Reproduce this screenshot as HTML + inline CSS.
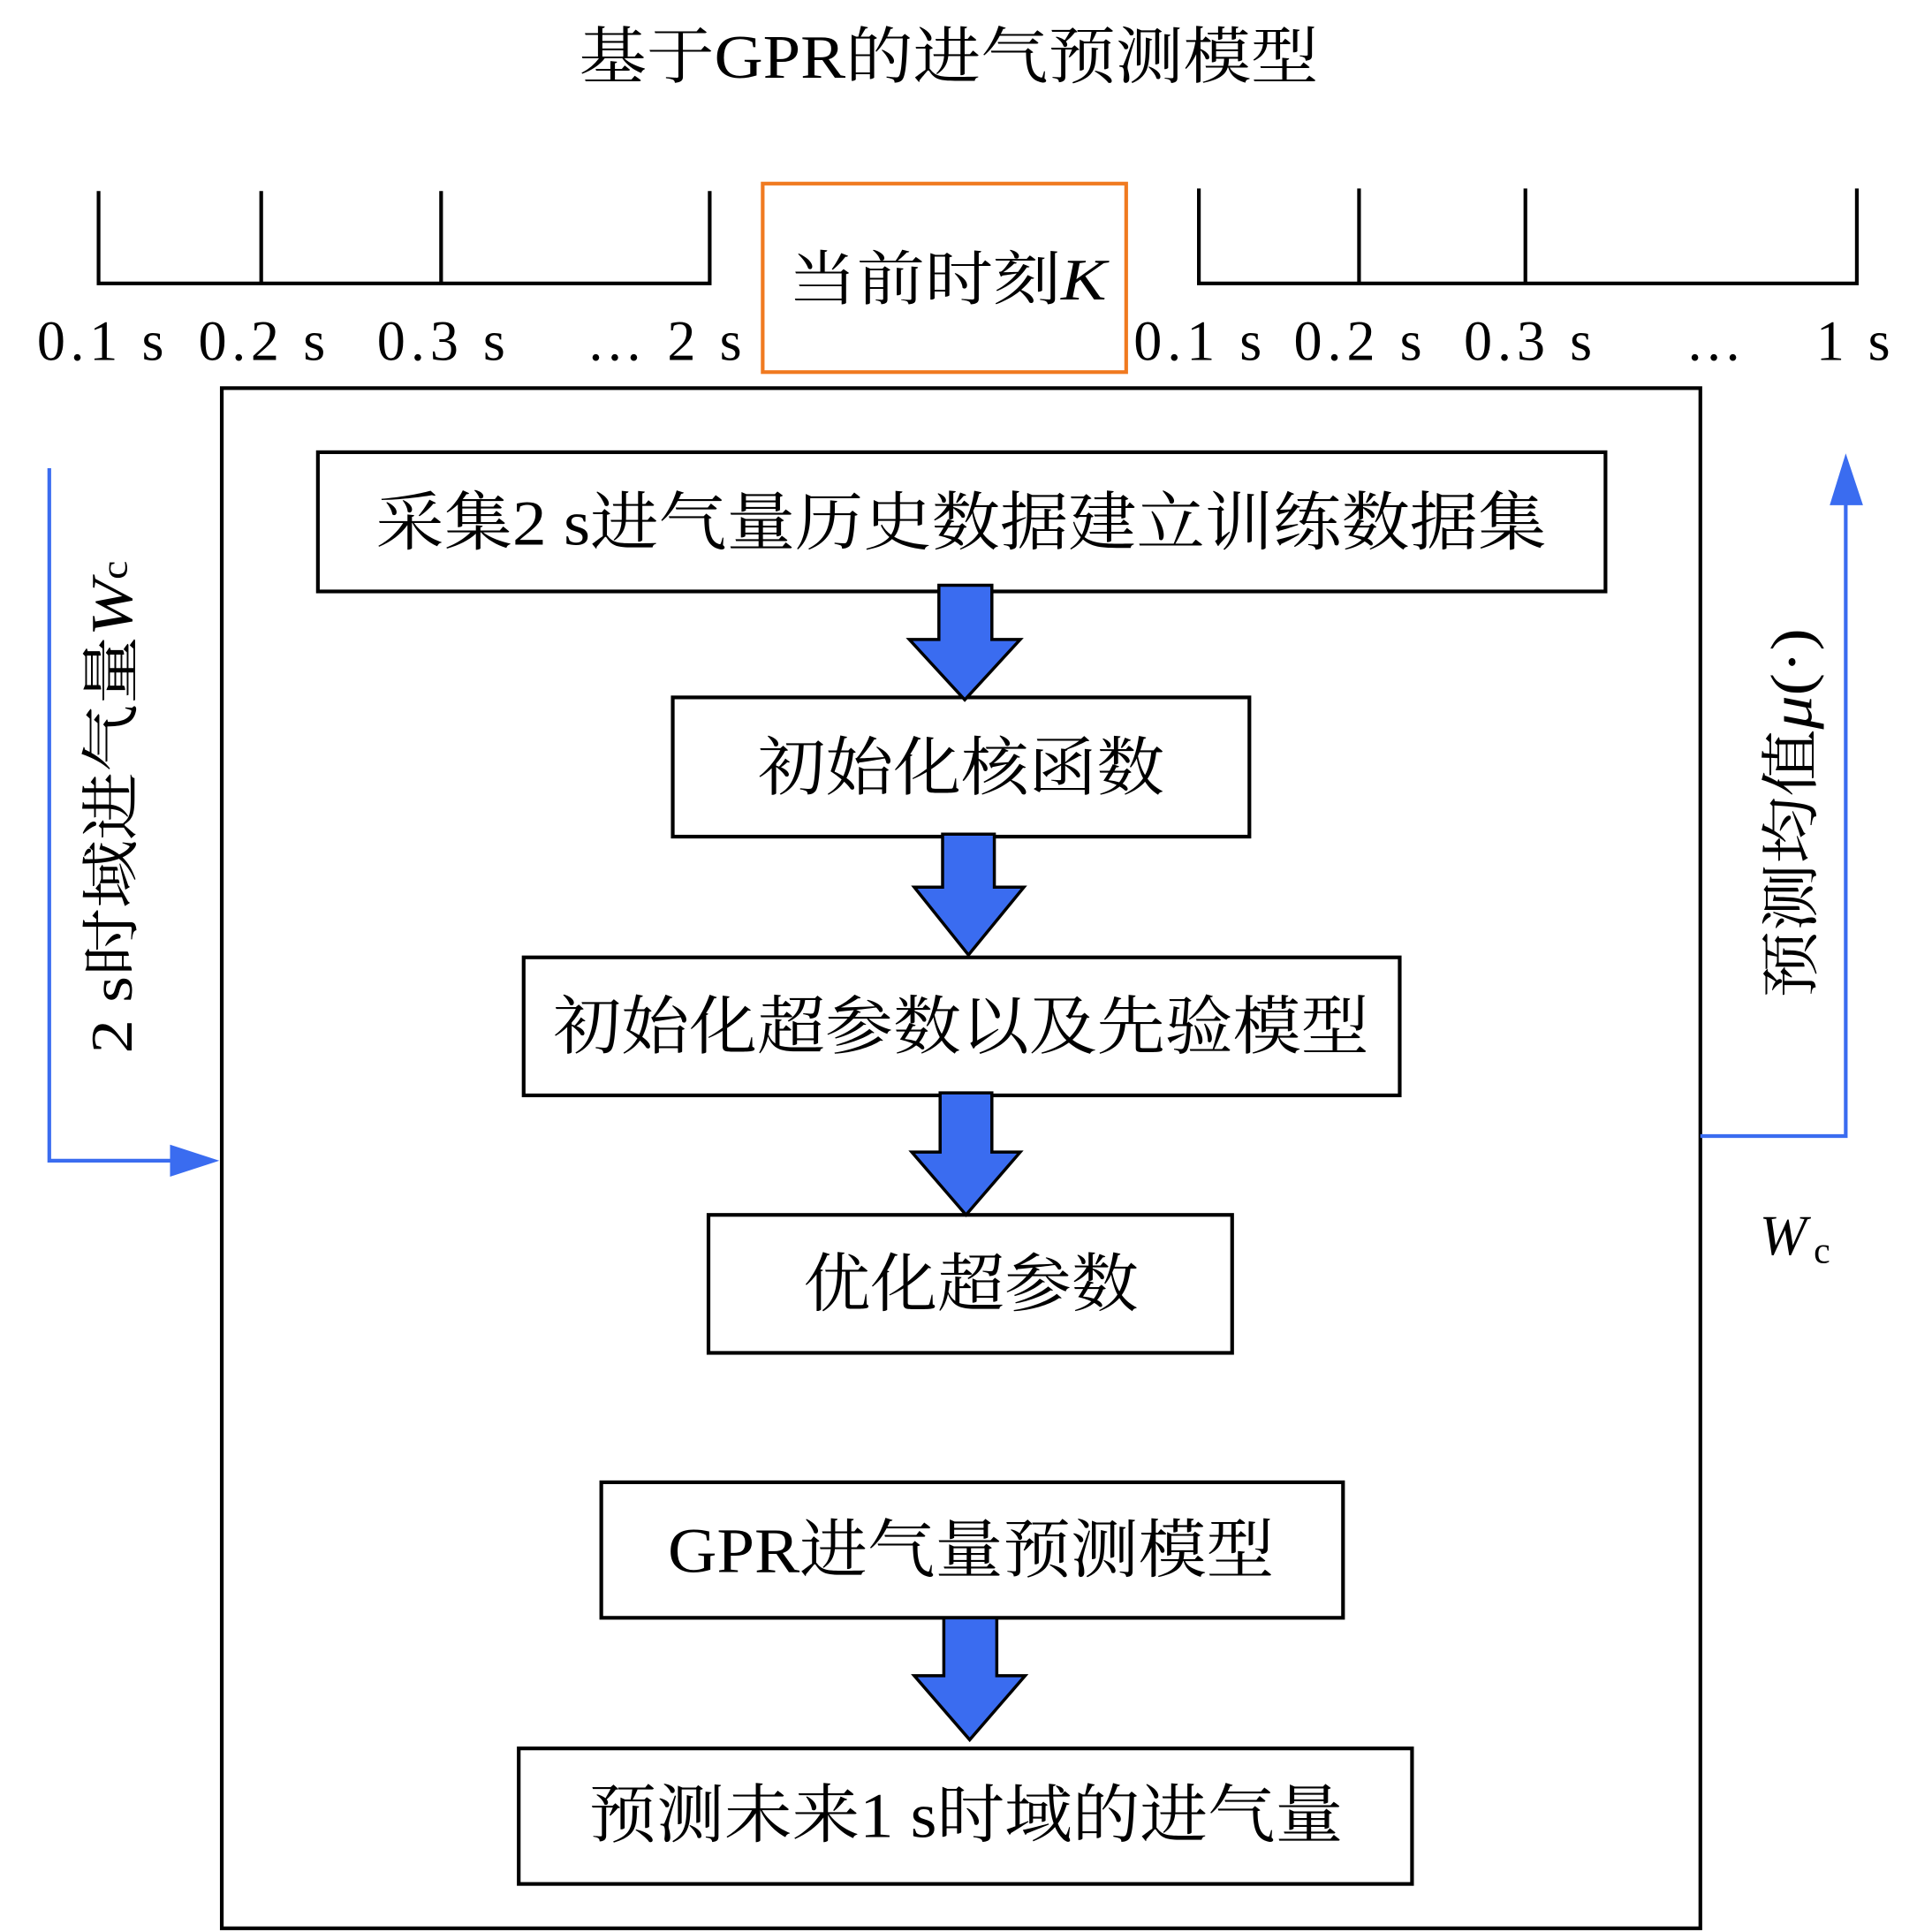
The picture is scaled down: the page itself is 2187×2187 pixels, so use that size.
<!DOCTYPE html>
<html><head><meta charset="utf-8"><style>html,body{margin:0;padding:0;background:#fff}svg{display:block}
text{font-family:"Liberation Serif","Noto Serif CJK SC",serif;fill:#000}</style></head><body>
<svg width="2187" height="2187" viewBox="0 0 1568 1568" xmlns="http://www.w3.org/2000/svg">
<text x="770" y="63" font-size="50" text-anchor="middle" textLength="600" lengthAdjust="spacingAndGlyphs">基于GPR的进气预测模型</text>
<g stroke="#000" stroke-width="3" fill="none">
<path d="M80 155V230H576V155M212 155V230M358 155V230"/>
<path d="M973 153V230H1507V153M1103 153V230M1238 153V230"/>
<rect x="180" y="315" width="1200" height="1250"/>
<rect x="258" y="367" width="1045" height="113"/>
<rect x="546" y="566" width="468" height="113"/>
<rect x="425" y="777" width="711" height="112"/>
<rect x="575" y="986" width="425" height="112"/>
<rect x="488" y="1203" width="602" height="110"/>
<rect x="421" y="1419" width="725" height="110"/>
</g>
<rect x="619" y="149" width="295" height="153" fill="none" stroke="#f07a20" stroke-width="3"/>
<g font-size="46">
<text x="30" y="292" textLength="103">0.1 s</text><text x="161" y="292" textLength="103">0.2 s</text><text x="306" y="292" textLength="104">0.3 s</text><text x="476" y="292" textLength="126">… 2 s</text>
<text x="920" y="292" textLength="104">0.1 s</text><text x="1050" y="292" textLength="104">0.2 s</text><text x="1188" y="292" textLength="104">0.3 s</text><text x="1368" y="292" textLength="47">…</text><text x="1474" y="292" textLength="60">1 s</text>
</g>
<text x="640" y="243" font-size="48" textLength="258" lengthAdjust="spacingAndGlyphs">当前时刻<tspan font-style="italic">K</tspan></text>
<g font-size="52" text-anchor="middle">
<text x="780" y="442" textLength="950" lengthAdjust="spacingAndGlyphs">采集2 s进气量历史数据建立训练数据集</text>
<text x="780" y="641" textLength="330" lengthAdjust="spacingAndGlyphs">初始化核函数</text>
<text x="780" y="851" textLength="662" lengthAdjust="spacingAndGlyphs">初始化超参数以及先验模型</text>
<text x="788" y="1060" textLength="272" lengthAdjust="spacingAndGlyphs">优化超参数</text>
<text x="788" y="1276" textLength="492" lengthAdjust="spacingAndGlyphs">GPR进气量预测模型</text>
<text x="784" y="1491" textLength="612" lengthAdjust="spacingAndGlyphs">预测未来1 s时域的进气量</text>
</g>
<g fill="#3a6cf0" stroke="#000" stroke-width="2.5" stroke-linejoin="miter">
<path d="M762 475H805V519H828L783 568L738 519H762Z"/>
<path d="M765 677H807V720H831L786 775L742 720H765Z"/>
<path d="M763 887H805V935H828L784 986L740 935H763Z"/>
<path d="M766 1313H809V1360H832L787 1412L742 1360H766Z"/>
</g>
<g stroke="#3a6cf0" stroke-width="3" fill="none">
<path d="M40 380V942H150"/>
<path d="M1380 922H1498V400"/>
</g>
<path d="M178 942L138 929V955Z" fill="#3a6cf0"/>
<path d="M1498 368L1485 410H1512Z" fill="#3a6cf0"/>
<text transform="translate(107 855) rotate(-90)" font-size="48" textLength="400" lengthAdjust="spacingAndGlyphs">2 s时域进气量<tspan font-style="italic">W</tspan><tspan font-size="30" dy="-4">c</tspan></text>
<text transform="translate(1470 810) rotate(-90)" font-size="48" textLength="300" lengthAdjust="spacingAndGlyphs">预测均值<tspan font-style="italic">μ</tspan>(·)</text>
<text x="1428" y="1018" font-size="46" font-style="italic">W</text><text x="1472" y="1025" font-size="30">c</text>
</svg>
</body></html>
